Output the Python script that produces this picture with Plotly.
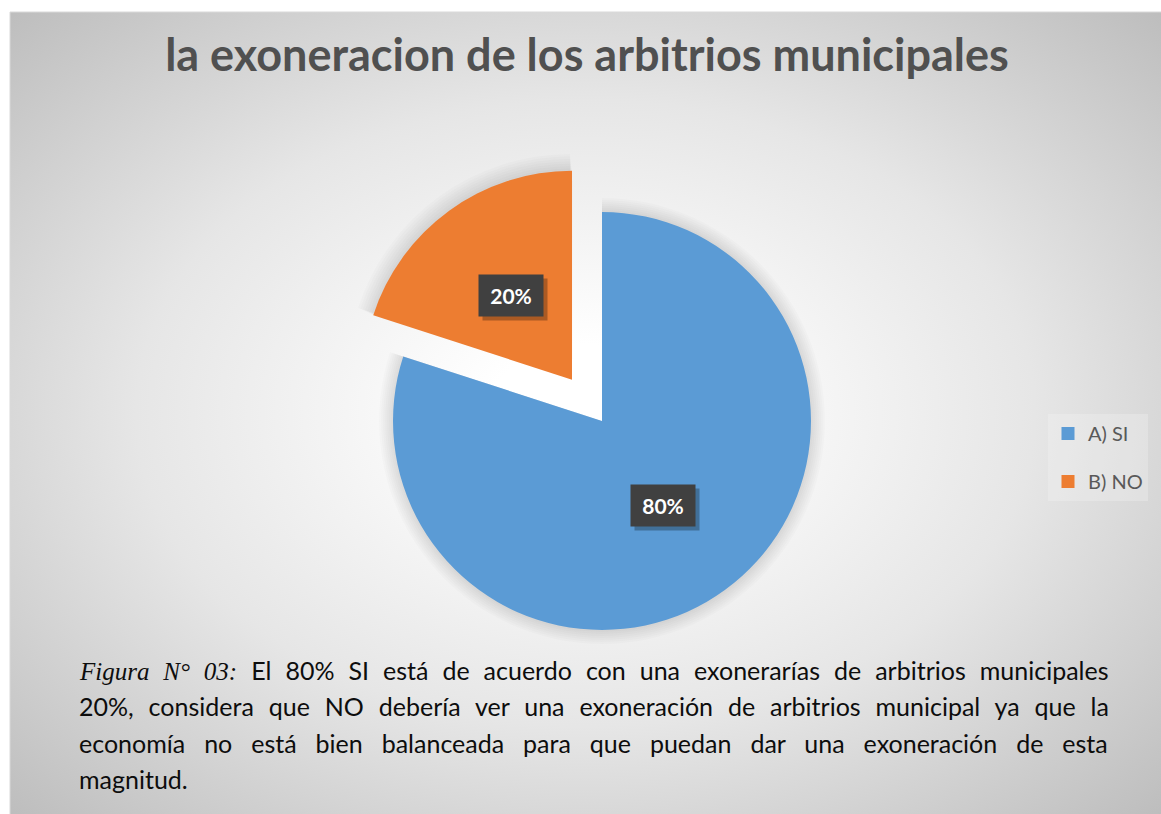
import math
import base64
import plotly.graph_objects as go

# ---------------- data ----------------
categories = ["A) SI", "B) NO"]
values = [80, 20]
colors = ["#5B9BD5", "#ED7D31"]
pulls = [0.0, 0.244]
title_text = "la exoneracion de los arbitrios municipales"
caption_lines = [
    ("Figura N° 03:", " El 80% SI está de acuerdo con una exonerarías de arbitrios municipales"),
    ("", "20%, considera que NO debería ver una exoneración de arbitrios municipal ya que la"),
    ("", "economía no está bien balanceada para que puedan dar una exoneración de esta"),
    ("", "magnitud."),
]
caption_word_spacing = [7.6, 8.5, 12.55, 0]

# ---------------- layout geometry ----------------
W, H = 1161, 814
cx_px, cy_px, r_px = 602, 421, 209
FONT = "Lato, 'Open Sans', sans-serif"


def pie_domain(r):
    half = r * (1 + max(pulls))
    return dict(x=[(cx_px - half) / W, (cx_px + half) / W],
                y=[1 - (cy_px + half) / H, 1 - (cy_px - half) / H])


fig = go.Figure()

# soft shadow halo
for k in (14, 12, 10, 8, 6, 4, 2):
    fig.add_trace(go.Pie(
        labels=categories, values=values, sort=False, direction="clockwise",
        rotation=0, pull=pulls,
        marker=dict(colors=["rgba(0,0,0,0.016)"] * len(values), line=dict(width=0)),
        textinfo="none", hoverinfo="skip", showlegend=False,
        domain=pie_domain(r_px + k),
    ))

fig.add_trace(go.Pie(
    labels=categories, values=values, sort=False, direction="clockwise",
    rotation=0, pull=pulls, marker=dict(colors=colors, line=dict(width=0)),
    textinfo="none", hoverinfo="label+percent", showlegend=False,
    domain=pie_domain(r_px),
))

# legend entries (one group per category for spacing)
for lab, col in zip(categories, colors):
    fig.add_trace(go.Scatter(
        x=[None], y=[None], mode="markers", name=lab, legendgroup=lab,
        marker=dict(symbol="square", size=13, color=col),
    ))

# background radial gradient (image)
svg = (
    '<svg xmlns="http://www.w3.org/2000/svg" width="1151" height="802" viewBox="0 0 1151 802" preserveAspectRatio="none">'
    '<defs><radialGradient id="g" cx="50%" cy="50%" r="71%">'
    '<stop offset="0" stop-color="#ffffff"/>'
    '<stop offset="0.12" stop-color="#ffffff"/>'
    '<stop offset="0.55" stop-color="#e6e6e6"/>'
    '<stop offset="1" stop-color="#bdbdbd"/>'
    '</radialGradient></defs>'
    '<rect width="1151" height="802" fill="url(#g)"/></svg>'
)
src = "data:image/svg+xml;base64," + base64.b64encode(svg.encode()).decode()
fig.add_layout_image(dict(
    source=src, xref="paper", yref="paper", x=10 / W, y=1 - 12 / H,
    sizex=(W - 10) / W, sizey=(H - 12) / H, sizing="stretch",
    xanchor="left", yanchor="top", layer="below",
))
fig.add_shape(type="rect", xref="paper", yref="paper",
              x0=10 / W, x1=1.01, y0=-0.01, y1=1 - 12 / H,
              line=dict(color="#d9d9d9", width=1), layer="below")

# data labels computed from the values
total = sum(values)
cum = 0.0
for v, p in zip(values, pulls):
    mid = 2 * math.pi * (cum + v / 2) / total
    cum += v
    d = p * r_px + 0.5 * r_px
    lx = cx_px + d * math.sin(mid)
    ly = cy_px - d * math.cos(mid)
    txt = f"{v / total * 100:.0f}%"
    fig.add_annotation(x=(lx + 4) / W, y=1 - (ly + 4) / H, xref="paper", yref="paper",
                       text=" ", showarrow=False, width=62, height=39,
                       bgcolor="rgba(0,0,0,0.28)", borderpad=1)
    fig.add_annotation(x=lx / W, y=1 - ly / H, xref="paper", yref="paper",
                       text=f"<b>{txt}</b>", showarrow=False, width=62, height=39,
                       bgcolor="#404040", borderpad=1,
                       font=dict(family=FONT, size=21, color="white"))

# caption (justified via word-spacing)
cap_y = [670, 706, 743, 779]
for (ital, rest), ws, y in zip(caption_lines, caption_word_spacing, cap_y):
    parts = ""
    if ital:
        parts += (f"<i><span style=\"font-family:'Liberation Serif';word-spacing:{ws}px\">"
                  f"{ital}</span></i>")
    parts += f"<span style=\"word-spacing:{ws}px\">{rest}</span>"
    fig.add_annotation(x=77 / W, y=1 - y / H, xref="paper", yref="paper",
                       text=parts, showarrow=False, xanchor="left", yanchor="middle",
                       font=dict(family=FONT, size=25, color="#0d0d0d"))

fig.update_layout(
    width=W, height=H, autosize=False,
    margin=dict(l=0, r=0, t=0, b=0),
    paper_bgcolor="white", plot_bgcolor="rgba(0,0,0,0)",
    xaxis=dict(visible=False), yaxis=dict(visible=False),
    title=dict(text=title_text, x=587 / W, xanchor="center", xref="paper",
               y=1 - 55 / H, yref="container", yanchor="middle",
               font=dict(family=FONT, size=45, color="#505050", weight="bold")),
    legend=dict(x=1048 / W, y=1 - 414 / H, xanchor="left", yanchor="top",
                bgcolor="rgba(245,245,245,0.3)", tracegroupgap=19,
                font=dict(family=FONT, size=20, color="#595959"),
                itemclick=False, itemdoubleclick=False),
)

fig.write_html("out.html", config={"displayModeBar": False},
               post_script="document.body.style.margin='0';document.body.style.overflow='hidden';")
